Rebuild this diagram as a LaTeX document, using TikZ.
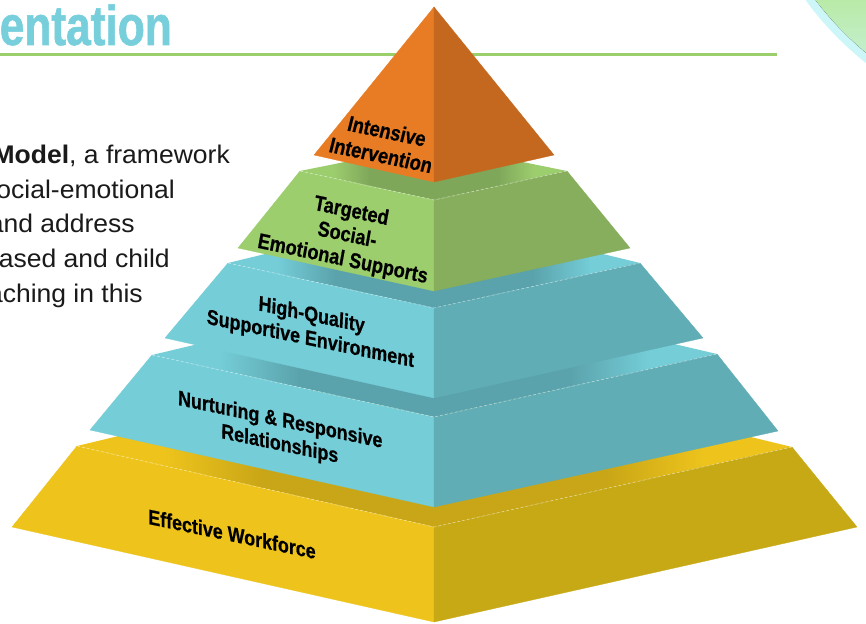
\documentclass[tikz,border=0pt]{standalone}
\usepackage{fontspec}
\setmainfont{Liberation Sans}
\newfontfamily\bodyfont[FakeStretch=1.04]{Liberation Sans}
\newfontfamily\condfont[FakeStretch=0.85,FakeBold=0.6]{Liberation Sans}
\newfontfamily\titlefont[FakeStretch=0.79,FakeBold=1]{Liberation Sans}
\definecolor{orL}{HTML}{E87C24}
\definecolor{orR}{HTML}{C4681F}
\definecolor{grL}{HTML}{9DCE6E}
\definecolor{grR}{HTML}{86AE5C}
\definecolor{grD}{HTML}{7FA75A}
\definecolor{tlL}{HTML}{74CDD7}
\definecolor{tlR}{HTML}{60ADB5}
\definecolor{tlD}{HTML}{5BA3AC}
\definecolor{ylL}{HTML}{EEC41C}
\definecolor{ylR}{HTML}{C7A915}
\definecolor{ylD}{HTML}{C9A617}
\definecolor{titleblue}{HTML}{76CFDB}
\definecolor{rulegreen}{HTML}{9BCF6B}
\definecolor{bodytext}{HTML}{1A1A1A}
\definecolor{arcCyan}{HTML}{CCF6F8}
\definecolor{arcGreenA}{HTML}{B9EAA4}
\definecolor{arcGreenB}{HTML}{C6F0D8}
\pgfdeclarehorizontalshading{grshade}{100bp}{color(0bp)=(grL); color(31bp)=(grL); color(38bp)=(grD); color(62bp)=(grD); color(69bp)=(grL); color(100bp)=(grL)}
\pgfdeclarehorizontalshading{tlshade}{100bp}{color(0bp)=(tlL); color(31bp)=(tlL); color(38bp)=(tlD); color(62bp)=(tlD); color(69bp)=(tlL); color(100bp)=(tlL)}
\pgfdeclarehorizontalshading{ylshade}{100bp}{color(0bp)=(ylL); color(31bp)=(ylL); color(38bp)=(ylD); color(62bp)=(ylD); color(69bp)=(ylL); color(100bp)=(ylL)}
\begin{document}
\begin{tikzpicture}[x=1pt,y=-1pt,
  lbl/.style={font=\condfont\bfseries\fontsize{21}{24}\selectfont, align=center, inner sep=0pt, text=black},
  body/.style={font=\bodyfont\fontsize{25.5}{30}\selectfont, anchor=base east, inner sep=0pt, text=bodytext},
  edgeline/.style={white, opacity=0.5, line width=0.6pt, dash pattern=on 3pt off 2pt}]
\fill[white] (0,0) rectangle (866,623);
\useasboundingbox (0,0) rectangle (866,623);
% top-right decoration
\fill[arcCyan] (1069,-192) circle (326);
\begin{scope}
  \clip (1069,-192) circle (318);
  \fill[top color=arcGreenA, bottom color=arcGreenB] (790,-5) rectangle (870,70);
\end{scope}
% title and rule
\node[font=\titlefont\bfseries\fontsize{56}{60}\selectfont, text=titleblue, anchor=base east, inner sep=0pt] (title) at (172,45) {entation};
\draw[rulegreen, line width=3pt] (0,55) -- (777,55);
% body text
\node[body] (t1) at (230,163) {\textbf{Model}, a framework};
\node[body] (t2) at (175,198) {ocial-emotional};
\node[body] (t3) at (135,232) {and address};
\node[body] (t4) at (170,267) {ased and child};
\node[body] (t5) at (143,302) {aching in this};
% ---------- yellow tier
\coordinate (yLt) at (77,446); \coordinate (yFt) at (434,527); \coordinate (yRt) at (792,447);
\coordinate (yBt) at (434,360);
\coordinate (yLb) at (12,527); \coordinate (yFb) at (434,622); \coordinate (yRb) at (857,527);
\shade[shading=ylshade] (yLt) -- (yFt) -- (yRt) -- (yBt) -- cycle;
\filldraw[fill=ylL, draw=ylL, line width=0.3pt] (yLt) -- (yFt) -- (yFb) -- (yLb) -- cycle;
\filldraw[fill=ylR, draw=ylR, line width=0.3pt] (yFt) -- (yRt) -- (yRb) -- (yFb) -- cycle;
\draw[edgeline] (yLt) -- (yFt) -- (yRt);
% ---------- teal tier 2
\coordinate (aLt) at (152,355); \coordinate (aFt) at (434,417); \coordinate (aRt) at (717,354);
\coordinate (aBt) at (434,288);
\coordinate (aLb) at (90,430); \coordinate (aFb) at (434,507); \coordinate (aRb) at (778,431);
\shade[shading=tlshade] (aLt) -- (aFt) -- (aRt) -- (aBt) -- cycle;
\filldraw[fill=tlL, draw=tlL, line width=0.3pt] (aLt) -- (aFt) -- (aFb) -- (aLb) -- cycle;
\filldraw[fill=tlR, draw=tlR, line width=0.3pt] (aFt) -- (aRt) -- (aRb) -- (aFb) -- cycle;
\draw[edgeline] (aLt) -- (aFt) -- (aRt);
% ---------- teal tier 1
\coordinate (bLt) at (228,263); \coordinate (bFt) at (434,308); \coordinate (bRt) at (640,263);
\coordinate (bBt) at (434,213);
\coordinate (bLb) at (165,338); \coordinate (bFb) at (434,398); \coordinate (bRb) at (703,338);
\shade[shading=tlshade] (bLt) -- (bFt) -- (bRt) -- (bBt) -- cycle;
\filldraw[fill=tlL, draw=tlL, line width=0.3pt] (bLt) -- (bFt) -- (bFb) -- (bLb) -- cycle;
\filldraw[fill=tlR, draw=tlR, line width=0.3pt] (bFt) -- (bRt) -- (bRb) -- (bFb) -- cycle;
\draw[edgeline] (bLt) -- (bFt) -- (bRt);
% ---------- green tier
\coordinate (gLt) at (300,171); \coordinate (gFt) at (434,200); \coordinate (gRt) at (567,171);
\coordinate (gBt) at (434,144);
\coordinate (gLb) at (238,248); \coordinate (gFb) at (434,291); \coordinate (gRb) at (630,248);
\shade[shading=grshade] (gLt) -- (gFt) -- (gRt) -- (gBt) -- cycle;
\filldraw[fill=grL, draw=grL, line width=0.3pt] (gLt) -- (gFt) -- (gFb) -- (gLb) -- cycle;
\filldraw[fill=grR, draw=grR, line width=0.3pt] (gFt) -- (gRt) -- (gRb) -- (gFb) -- cycle;
\draw[edgeline] (gLt) -- (gFt) -- (gRt);
% ---------- orange top
\coordinate (oA) at (434,7); \coordinate (oL) at (314,155); \coordinate (oF) at (434,182); \coordinate (oR) at (554,155);
\filldraw[fill=orL, draw=orL, line width=0.3pt] (oA) -- (oL) -- (oF) -- cycle;
\filldraw[fill=orR, draw=orR, line width=0.3pt] (oA) -- (oF) -- (oR) -- cycle;
% labels
\node[lbl, cm={1,-0.21,0.25,1,(0,0)}] (lo) at (384,143) {Intensive\\Intervention};
\node[lbl, cm={1,-0.21,0.18,1,(0,0)}] (lg) at (347,236) {Targeted\\Social-\\Emotional Supports};
\node[lbl, cm={1,-0.21,0.05,1,(0,0)}] (lb) at (311,328) {High-Quality\\Supportive Environment};
\node[lbl, cm={1,-0.21,0.02,1,(0,0)}] (la) at (280,433) {Nurturing \& Responsive\\Relationships};
\node[lbl, cm={1,-0.21,0,1,(0,0)}] (ly) at (232,534) {Effective Workforce};
\end{tikzpicture}
\end{document}
